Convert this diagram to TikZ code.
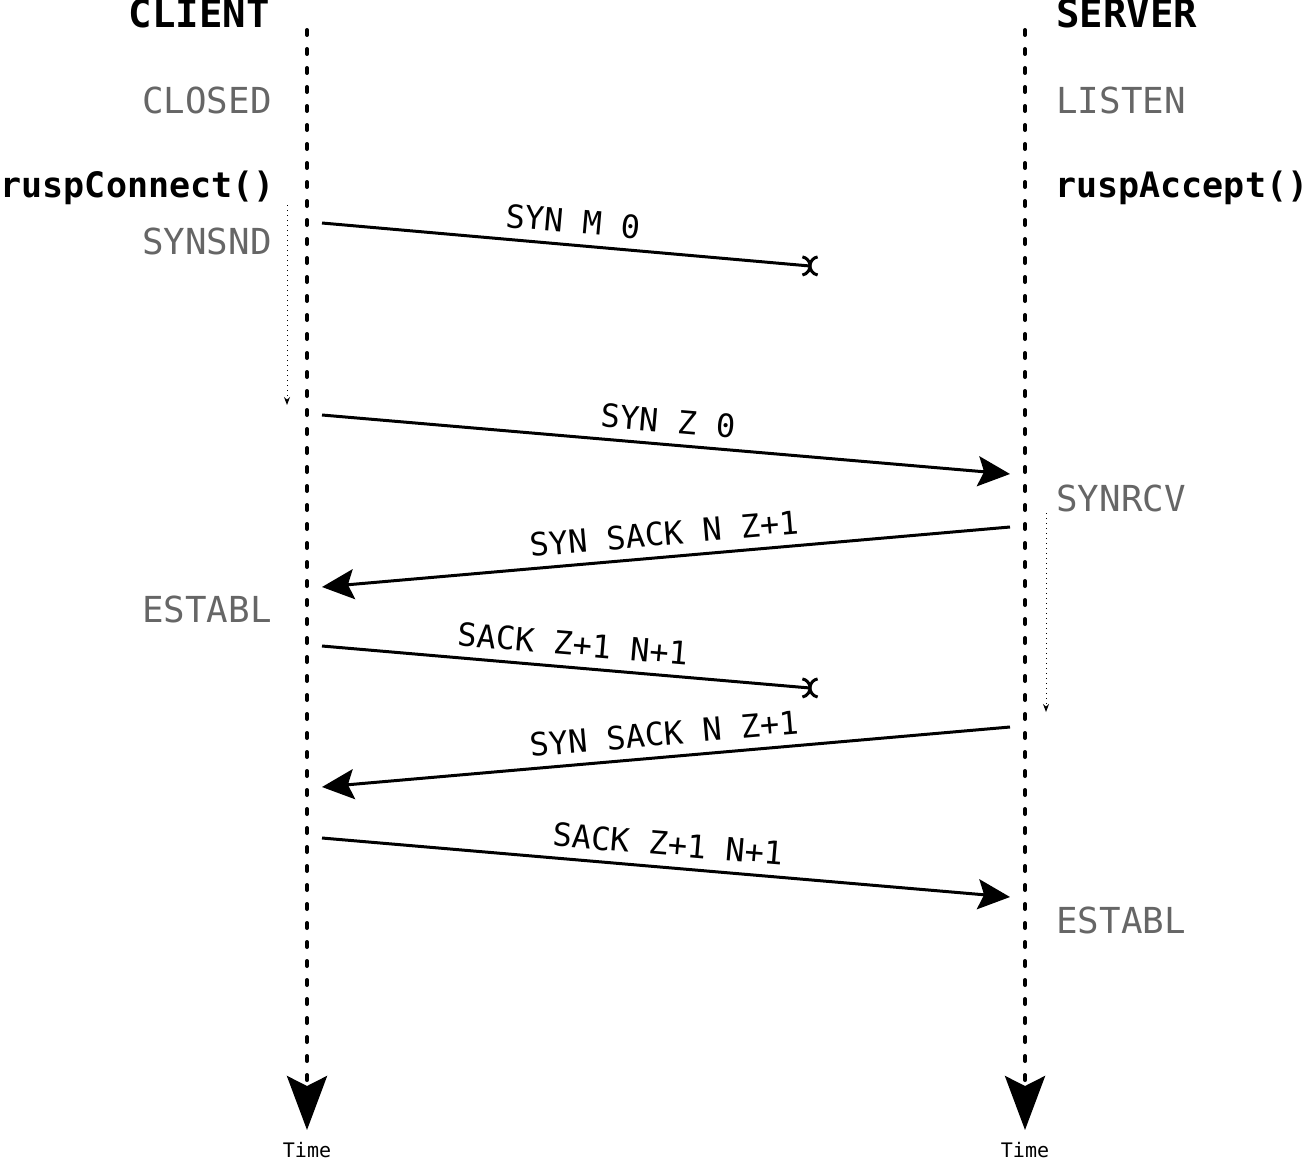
\documentclass[tikz,border=0pt]{standalone}
\usepackage{fontspec}
\usepackage{tikz}
\usetikzlibrary{arrows.meta,positioning}
\newfontfamily\diagfont{DejaVu Sans Mono}
\definecolor{stategray}{HTML}{666666}
\tikzset{
    life-line/.style = {line width=2pt, dash pattern=on 2.5pt off 7pt, line cap=round, -{Stealth[length=27pt, width=20pt, inset=5pt]}},
    msg/.style = {line width=1.5pt, -{Stealth[length=16pt, width=15pt, inset=3pt]}},
    msg-lost/.style = {line width=1.5pt},
    timeout/.style = {line width=0.5pt, dotted, -{Stealth[length=4pt, width=3pt]}},
    msg-label/.style = {font=\diagfont\fontsize{16}{18}\selectfont, inner sep=3pt, sloped, above=2pt},
    side-title/.style = {font=\diagfont\bfseries\fontsize{19.5}{22}\selectfont, inner sep=0pt},
    side-call/.style = {font=\diagfont\bfseries\fontsize{17.5}{20}\selectfont, inner sep=0pt},
    state-label/.style = {font=\diagfont\fontsize{17.9}{20}\selectfont, text=stategray, inner sep=0pt},
    time-label/.style = {font=\diagfont\fontsize{10}{12}\selectfont, inner sep=0pt, anchor=base},
    lost/.pic = {
        \draw[line width=1.5pt] (-3.8pt,-4.5pt) arc[start angle=-80, end angle=80, radius=4.6pt];
        \draw[line width=1.5pt] (3.8pt,-4.5pt) arc[start angle=260, end angle=100, radius=4.6pt];
    },
}

\begin{document}
\begin{tikzpicture}[x=0.5pt, y=-0.5pt]
\useasboundingbox (0,0) rectangle (1309,1161);

% lifelines
\coordinate (client-top) at (307,30);
\coordinate (client-end) at (307,1130);
\coordinate (server-top) at (1025,30);
\coordinate (server-end) at (1025,1130);
\draw[life-line] (client-top) -- (client-end);
\draw[life-line] (server-top) -- (server-end);
\node[time-label] (client-time) at (307,1157) {Time};
\node[time-label] (server-time) at (1025,1157) {Time};

% client side
\node[side-title, anchor=base east] (client) at (270,28) {CLIENT};
\node[state-label, anchor=base east] (closed) at (272,113) {CLOSED};
\node[side-call, anchor=base east] (connect) at (275,197) {ruspConnect()};
\node[state-label, anchor=base east] (synsnd) at (272,254) {SYNSND};
\node[state-label, anchor=base east] (establ-c) at (272,622) {ESTABL};

% server side
\node[side-title, anchor=base west] (server) at (1056,28) {SERVER};
\node[state-label, anchor=base west] (listen) at (1056,113) {LISTEN};
\node[side-call, anchor=base west] (accept) at (1055,197) {ruspAccept()};
\node[state-label, anchor=base west] (synrcv) at (1056,511) {SYNRCV};
\node[state-label, anchor=base west] (establ-s) at (1056,933) {ESTABL};

% timeouts
\coordinate (c-wait-a) at (287,205);
\coordinate (c-wait-b) at (287,405);
\coordinate (s-wait-a) at (1046,513);
\coordinate (s-wait-b) at (1046,712);
\draw[timeout] (c-wait-a) -- (c-wait-b);
\draw[timeout] (s-wait-a) -- (s-wait-b);

% messages
\coordinate (m1-a) at (322,223);
\coordinate (m1-b) at (810,266);
\coordinate (m2-a) at (322,415);
\coordinate (m2-b) at (1010,474);
\coordinate (m3-a) at (1010,527);
\coordinate (m3-b) at (322,587);
\coordinate (m4-a) at (322,646);
\coordinate (m4-b) at (810,688);
\coordinate (m5-a) at (1010,727);
\coordinate (m5-b) at (322,787);
\coordinate (m6-a) at (322,838);
\coordinate (m6-b) at (1010,897);

\draw[msg-lost] (m1-a) -- node[msg-label, pos=0.51] {SYN M 0} (m1-b);
\pic at (m1-b) {lost};
\draw[msg] (m2-a) -- node[msg-label] {SYN Z 0} (m2-b);
\draw[msg] (m3-a) -- node[msg-label] {SYN SACK N Z+1} (m3-b);
\draw[msg-lost] (m4-a) -- node[msg-label, pos=0.51] {SACK Z+1 N+1} (m4-b);
\pic at (m4-b) {lost};
\draw[msg] (m5-a) -- node[msg-label] {SYN SACK N Z+1} (m5-b);
\draw[msg] (m6-a) -- node[msg-label] {SACK Z+1 N+1} (m6-b);
\end{tikzpicture}
\end{document}
